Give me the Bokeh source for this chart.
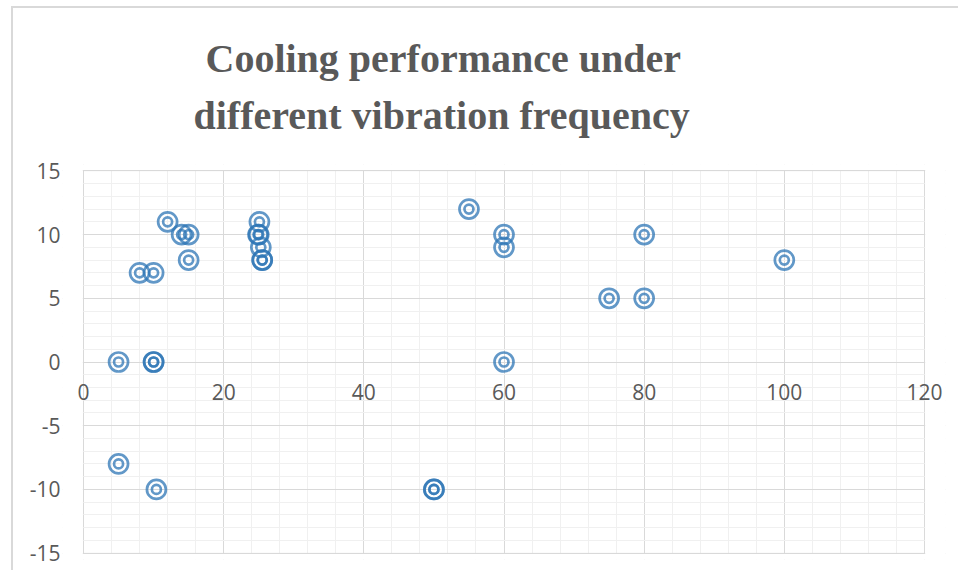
from bokeh.plotting import figure
from bokeh.models import (Range1d, SingleIntervalTicker, BoxAnnotation, ColumnDataSource, Title,
                          PrintfTickFormatter)
from bokeh.embed import file_html
from bokeh.resources import INLINE

# vibration frequency (x) and cooling performance (y)
freq = [5, 10, 10, 5, 10.4, 8, 10, 12, 14, 15, 15, 25.1, 24.9, 25.0, 25.3, 25.5, 25.5,
        55, 60, 60, 60, 75, 80, 80, 100, 50, 50]
cooling = [0, 0, 0, -8, -10, 7, 7, 11, 10, 10, 8, 11, 10, 10, 9, 8, 8,
           12, 10, 9, 0, 5, 5, 10, 8, -10, -10]

title_lines = ["Cooling performance under", "different vibration frequency"]
x_start, x_end, x_step = 0, 120, 20
y_start, y_end, y_step = -15, 15, 5
x_pad, y_pad = 3, 0.5

src = ColumnDataSource(data=dict(freq=freq, cooling=cooling))

p = figure(width=958, height=570, output_backend="svg", toolbar_location=None,
           x_range=Range1d(x_start - x_pad, x_end + x_pad),
           y_range=Range1d(y_start - y_pad, y_end + y_pad),
           min_border_left=62, min_border_right=13, min_border_top=164,
           min_border_bottom=11)

p.background_fill_color = "white"
p.border_fill_color = None
p.outline_line_color = None
# light chart-area border (left and top) drawn behind the transparent canvas border
p.styles = {
    "background-color": "white",
    "background-image": "linear-gradient(#d9d9d9, #d9d9d9), linear-gradient(#d9d9d9, #d9d9d9)",
    "background-size": "2px 100%, 100% 2px",
    "background-position": "11px 6px, 11px 6px",
    "background-repeat": "no-repeat",
}

xt = SingleIntervalTicker(interval=x_step, num_minor_ticks=5)
yt = SingleIntervalTicker(interval=y_step, num_minor_ticks=5)
p.xaxis.ticker = xt
p.yaxis.ticker = yt
p.xgrid.ticker = xt
p.ygrid.ticker = yt

for g in (p.xgrid, p.ygrid):
    g.grid_line_color = "#d9d9d9"
    g.grid_line_width = 1
    g.minor_grid_line_color = "#f0f0f0"
    g.minor_grid_line_width = 1

# white masks outside the plot area (under the axes and markers)
eps_x, eps_y = 0.1, 0.06
for kw in (dict(right=x_start - eps_x, left=x_start - 2 * x_pad),
           dict(left=x_end + eps_x, right=x_end + 2 * x_pad),
           dict(bottom=y_end + eps_y, top=y_end + 2 * y_pad),
           dict(top=y_start - eps_y, bottom=y_start - 2 * y_pad)):
    p.add_layout(BoxAnnotation(fill_color="white", fill_alpha=1, line_color=None,
                               level="underlay", **kw))
p.add_layout(BoxAnnotation(left=x_start, right=x_end, bottom=y_start, top=y_end,
                           fill_alpha=0, line_color="#d9d9d9", line_width=1,
                           level="underlay"))

p.xaxis.fixed_location = 0
p.xaxis.bounds = (x_start, x_end)
p.yaxis.bounds = (y_start, y_end)
for ax in (p.xaxis, p.yaxis):
    ax.axis_line_color = None
    ax.major_tick_line_color = None
    ax.minor_tick_line_color = None
    ax.major_tick_out = 0
    ax.major_tick_in = 0
    ax.minor_tick_out = 0
    ax.minor_tick_in = 0
    ax.formatter = PrintfTickFormatter(format="%d")
    ax.major_label_text_font = "Open Sans"
    ax.major_label_text_font_size = "21px"
    ax.major_label_text_color = "#595959"
p.xaxis.major_label_standoff = 22
p.yaxis.major_label_standoff = 2

common = dict(x="freq", y="cooling", source=src, marker="circle", fill_color=None,
              line_color="#2E75B6", line_alpha=0.75, line_width=2.7)
p.scatter(size=19, **common)
p.scatter(size=9, **common)

title_style = dict(align="left", text_font="Liberation Serif", text_font_size="40px",
                   text_font_style="bold", text_color="#595959")
p.add_layout(Title(text=title_lines[1], offset=131, standoff=53, **title_style), "above")
p.add_layout(Title(text=title_lines[0], offset=143, standoff=-33, **title_style), "above")

open("out.html", "w").write(file_html(p, INLINE))
